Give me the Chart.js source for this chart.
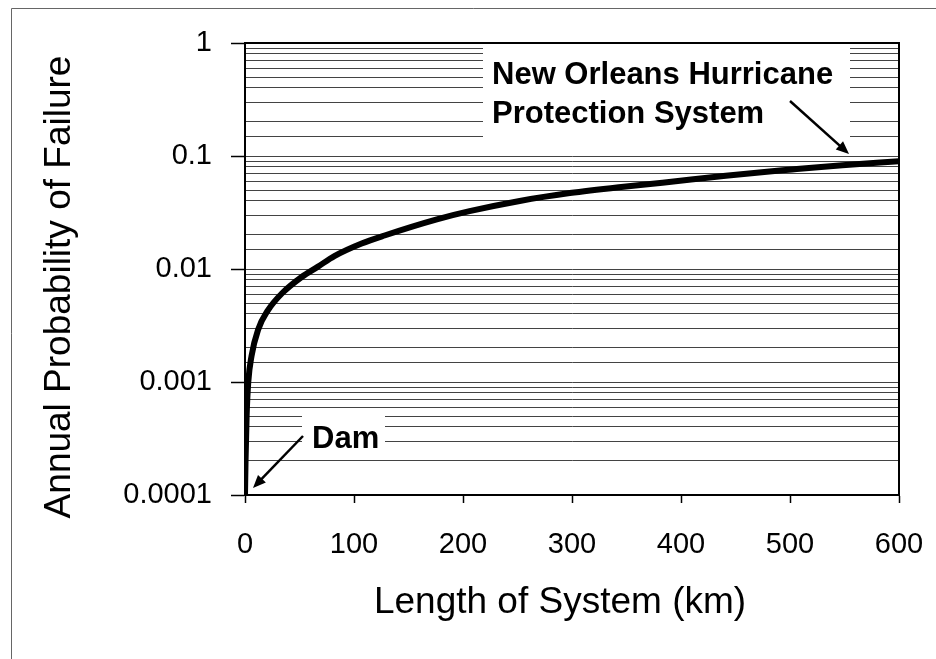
<!DOCTYPE html>
<html>
<head>
<meta charset="utf-8">
<script src="https://cdn.jsdelivr.net/npm/chart.js@4.4.1/dist/chart.umd.min.js"></script>
<style>
  body { margin: 0; background: #fff; }
  canvas { display: block; }
</style>
</head>
<body>
<canvas id="grafico" width="936" height="659"></canvas>
<script>
// values
const lengthKm = [0, 0.5, 1.5, 3, 6, 12, 21, 34, 52, 67, 82, 107, 128, 176, 206, 252, 298, 343, 383, 441, 502, 548, 600];
const probFailure = [0.0001, 0.0002, 0.0005, 0.001, 0.0017, 0.0029, 0.0043, 0.0061, 0.0085, 0.0105, 0.013, 0.0168, 0.0198, 0.0275, 0.0325, 0.040, 0.047, 0.053, 0.058, 0.067, 0.076, 0.083, 0.09];
const yTickLabels = ['0.0001', '0.001', '0.01', '0.1', '1'];
const xTickLabels = ['0', '100', '200', '300', '400', '500', '600'];
const yTitle = 'Annual Probability of Failure';
const xTitle = 'Length of System (km)';
const noteNO = ['New Orleans Hurricane', 'Protection System'];
const noteDam = 'Dam';

const font = 'Liberation Sans, Arial, sans-serif';

function esMayor(v) {
  const e = Math.log10(v);
  return Math.abs(e - Math.round(e)) < 1e-6;
}

function flecha(ctx, x1, y1, x2, y2) {
  const ang = Math.atan2(y2 - y1, x2 - x1);
  ctx.beginPath();
  ctx.moveTo(x1, y1);
  ctx.lineTo(x2 - 8 * Math.cos(ang), y2 - 8 * Math.sin(ang));
  ctx.stroke();
  ctx.beginPath();
  ctx.moveTo(x2, y2);
  ctx.lineTo(x2 - 14 * Math.cos(ang - 0.4), y2 - 14 * Math.sin(ang - 0.4));
  ctx.lineTo(x2 - 14 * Math.cos(ang + 0.4), y2 - 14 * Math.sin(ang + 0.4));
  ctx.closePath();
  ctx.fill();
}

const notas = {
  id: 'notas',
  beforeDatasetsDraw(chart) {
    const ctx = chart.ctx;
    ctx.save();
    ctx.fillStyle = '#fff';
    ctx.fillRect(483, 46, 367, 104);
    ctx.fillRect(302, 410, 83, 45);
    ctx.restore();
  },
  afterDraw(chart) {
    const ctx = chart.ctx;
    const a = chart.chartArea;
    ctx.save();
    // marco del area
    ctx.strokeStyle = '#000';
    ctx.lineWidth = 2;
    ctx.strokeRect(a.left, a.top, a.right - a.left, a.bottom - a.top);
    // marco exterior
    ctx.strokeStyle = '#666';
    ctx.lineWidth = 1;
    ctx.beginPath();
    ctx.moveTo(11.5, 659);
    ctx.lineTo(11.5, 8.5);
    ctx.lineTo(936, 8.5);
    ctx.stroke();

    ctx.fillStyle = '#000';
    ctx.font = 'bold 31px ' + font;
    ctx.textAlign = 'left';
    ctx.textBaseline = 'alphabetic';
    ctx.fillText(noteNO[0], 492, 84);
    ctx.fillText(noteNO[1], 492, 123);
    ctx.fillText(noteDam, 312, 448);

    ctx.strokeStyle = '#000';
    ctx.lineWidth = 2.5;
    flecha(ctx, 790, 101, 849, 154);
    flecha(ctx, 303, 436, 253, 488);

    // titulos
    ctx.font = '37px ' + font;
    ctx.textAlign = 'center';
    ctx.textBaseline = 'middle';
    ctx.fillText(xTitle, 560, 603);
    ctx.translate(60, 287);
    ctx.rotate(-Math.PI / 2);
    ctx.fillText(yTitle, 0, 0);
    ctx.restore();
  }
};

new Chart(document.getElementById('grafico'), {
  type: 'scatter',
  data: {
    datasets: [{
      data: lengthKm.map((x, i) => ({ x: x, y: probFailure[i] })),
      showLine: true,
      borderColor: '#000',
      borderWidth: 6,
      pointRadius: 0,
      cubicInterpolationMode: 'monotone'
    }]
  },
  options: {
    responsive: false,
    devicePixelRatio: 1,
    animation: false,
    layout: { padding: { left: 0, top: 43, right: 37, bottom: 0 } },
    plugins: {
      legend: { display: false },
      tooltip: { enabled: false }
    },
    scales: {
      x: {
        type: 'linear',
        min: 0,
        max: 600,
        afterFit(scale) {
          scale.height = 164;
          scale.paddingLeft = 0;
          scale.paddingRight = 0;
        },
        border: { color: '#000', width: 2 },
        grid: { drawOnChartArea: false, drawTicks: true, tickLength: 8, tickColor: '#000', tickWidth: 1.5 },
        ticks: {
          stepSize: 100,
          maxRotation: 0,
          padding: 25,
          color: '#000',
          font: { family: font, size: 29 },
          callback: (v) => xTickLabels[Math.round(v / 100)]
        }
      },
      y: {
        type: 'logarithmic',
        min: 0.0001,
        max: 1,
        afterFit(scale) {
          scale.width = 245;
          scale.paddingTop = 0;
          scale.paddingBottom = 0;
        },
        border: { color: '#000', width: 2 },
        grid: {
          color: 'rgba(20,20,20,0.8)',
          lineWidth: 1,
          tickLength: 14,
          tickColor: (c) => (c.tick && esMayor(c.tick.value)) ? '#000' : 'rgba(0,0,0,0)',
          tickWidth: 1.5
        },
        ticks: {
          autoSkip: false,
          padding: 19,
          color: '#000',
          font: { family: font, size: 29 },
          callback: (v) => esMayor(v) ? yTickLabels[Math.round(Math.log10(v)) + 4] : ''
        }
      }
    }
  },
  plugins: [notas]
});
</script>
</body>
</html>
